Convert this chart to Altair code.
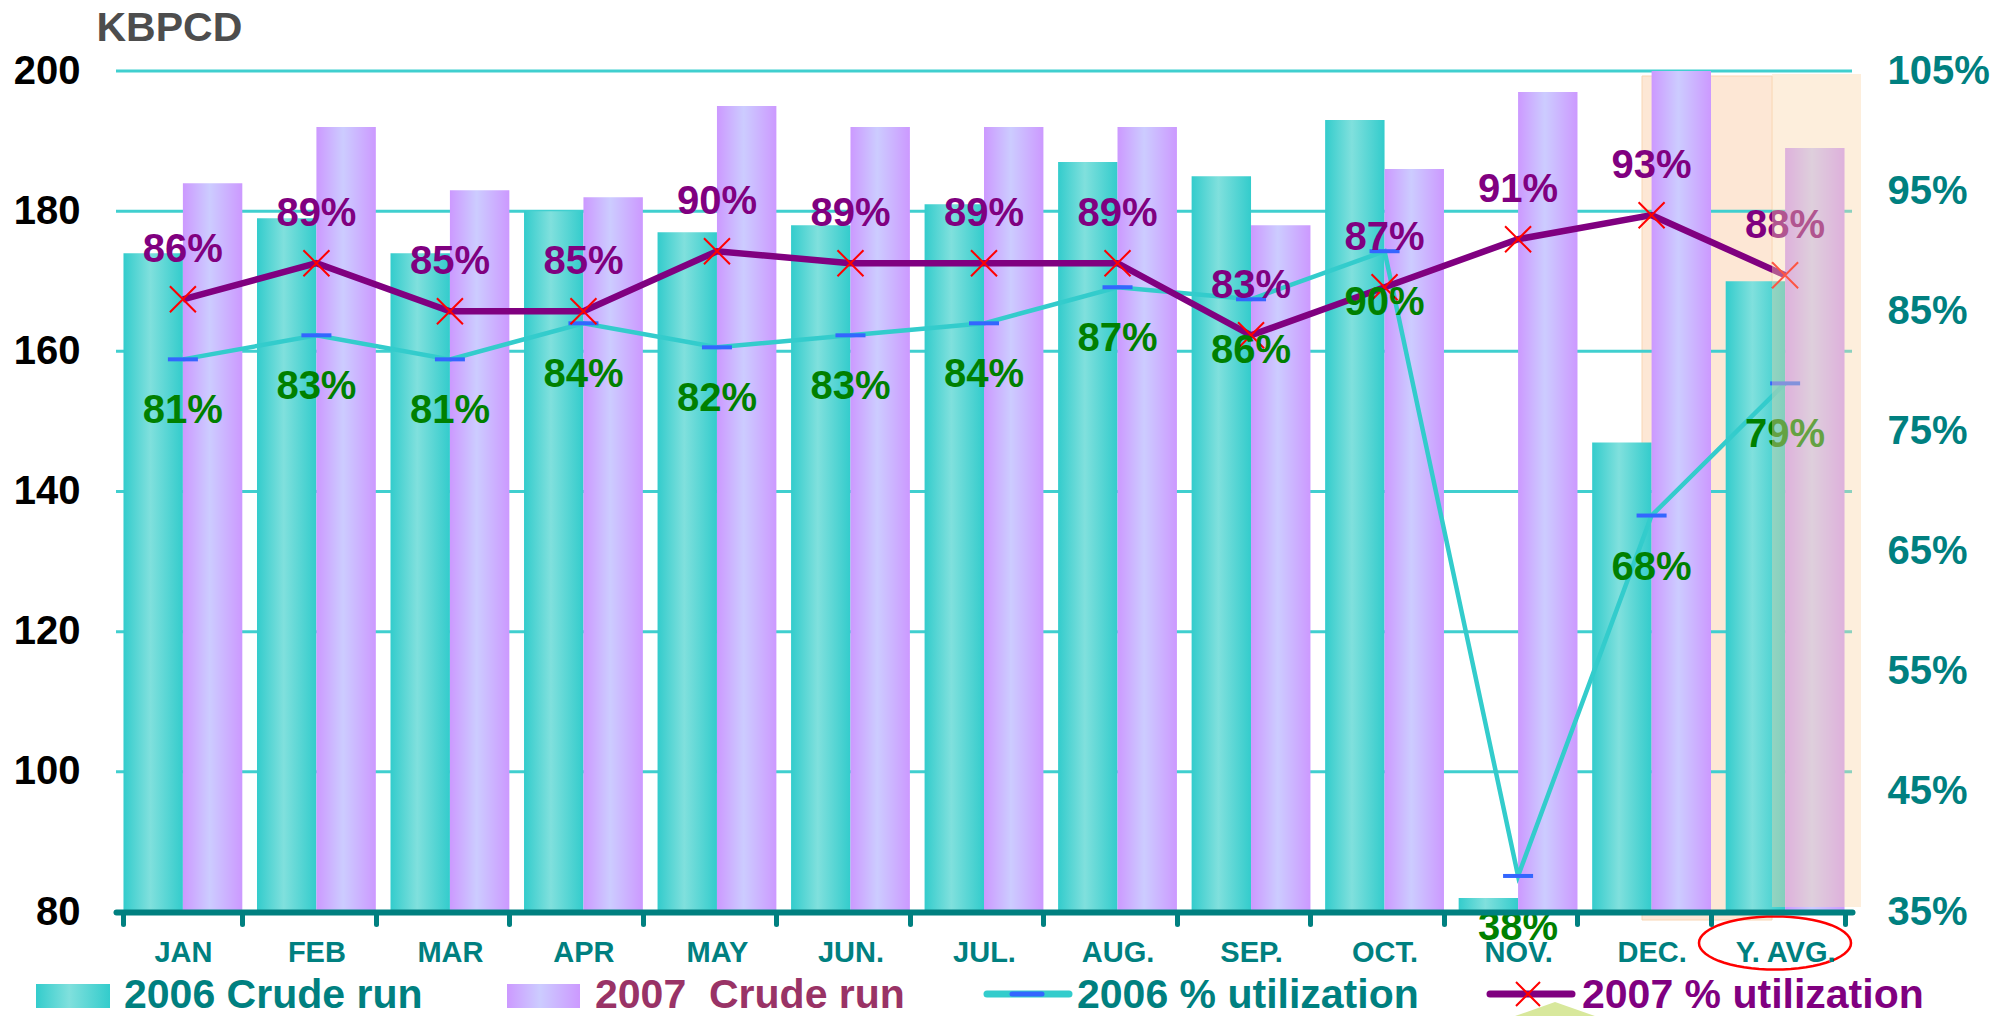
import math
import altair as alt
import pandas as pd

# ---------------- data ----------------
months = ["JAN", "FEB", "MAR", "APR", "MAY", "JUN.", "JUL.", "AUG.", "SEP.", "OCT.", "NOV.", "DEC.", "Y. AVG."]
crude_2006 = [174, 179, 174, 180, 177, 178, 181, 187, 185, 193, 82, 147, 170]
crude_2007 = [184, 192, 183, 182, 195, 192, 192, 192, 178, 186, 197, 200, 189]
util_2006 = [81, 83, 81, 84, 82, 83, 84, 87, 86, 90, 38, 68, 79]
util_2007 = [86, 89, 85, 85, 90, 89, 89, 89, 83, 87, 91, 93, 88]
left_ticks = [80, 100, 120, 140, 160, 180, 200]
right_ticks = [35, 45, 55, 65, 75, 85, 95, 105]
series = ["2006", "2007"]

W, H = 1736, 841
FONT = "Liberation Sans"
TEAL_TXT = "#008080"

bars_df = pd.DataFrame({
    "month": months * 2,
    "series": ["2006"] * len(months) + ["2007"] * len(months),
    "kb": crude_2006 + crude_2007,
})
bars_df["base"] = left_ticks[0]
util_df = pd.DataFrame({"month": months, "idx": list(range(len(months))),
                        "u2006": util_2006, "u2007": util_2007})
grid_df = pd.DataFrame({"kb": left_ticks[1:]})
one = pd.DataFrame({"k": [0]})

xscale = alt.Scale(domain=months, paddingInner=0.11, paddingOuter=0.056)
yscale = alt.Scale(domain=[80, 200], zero=False, nice=False)
pscale = alt.Scale(domain=[35, 105], zero=False, nice=False)


def grad(c1, c2):
    return alt.Gradient(gradient="linear", x1=0, x2=1, y1=0, y2=0,
                        stops=[alt.GradientStop(color=c1, offset=0),
                               alt.GradientStop(color=c2, offset=0.45),
                               alt.GradientStop(color=c1, offset=1)])


teal_grad = grad("#33CCCC", "#80E0DD")
purple_grad = grad("#CC99FF", "#CCCCFF")

x_axis = alt.Axis(title=None, labelAngle=0, grid=False, domain=True, domainColor=TEAL_TXT,
                  domainWidth=6, domainCap="round", ticks=True, tickColor=TEAL_TXT, tickWidth=5,
                  tickSize=12, tickCap="round", tickBand="extent", labelColor=TEAL_TXT,
                  labelFontSize=29, labelFontWeight="bold", labelBaseline="alphabetic",
                  labelPadding=37, zindex=1)
left_axis = alt.Axis(orient="left", values=left_ticks, grid=False, domain=False, ticks=False,
                     labelFontSize=40, labelFontWeight="bold", labelColor="black", labelPadding=36,
                     title="KBPCD", titleAngle=0, titleX=-20, titleY=-31, titleAlign="left",
                     titleBaseline="alphabetic", titleFontSize=41, titleFontWeight="bold",
                     titleColor="#4D4D4D")
right_axis = alt.Axis(orient="right", values=right_ticks, labelExpr="datum.value + '%'",
                      grid=False, domain=False, ticks=False, labelColor=TEAL_TXT, labelFontSize=40,
                      labelFontWeight="bold", labelPadding=35, title=None)

X_SHAPE = "M -1 -1 L 1 1 M -1 1 L 1 -1"
LBL = 40

# ---------------- left (crude run) layer ----------------
highlight = alt.Chart(one).mark_rect(color="#FDE7D5", stroke="#F9D6B4", strokeWidth=1).encode(
    x=alt.value(1526), x2=alt.value(1656), y=alt.value(5), y2=alt.value(849))

grid = alt.Chart(grid_df).mark_rule(color="#40CFCF", strokeWidth=3).encode(
    y=alt.Y("kb:Q", scale=yscale, axis=left_axis))

xoff = alt.XOffset("series:N", scale=alt.Scale(domain=series, paddingInner=0, paddingOuter=0))
xb = alt.X("month:N", scale=xscale, axis=x_axis)
yb = alt.Y("kb:Q", scale=yscale, axis=left_axis)

bar06 = alt.Chart(bars_df).transform_filter("datum.series == '2006'").mark_bar(
    color=teal_grad, clip=True).encode(x=xb, xOffset=xoff, y=yb, y2="base")
bar07 = alt.Chart(bars_df).transform_filter("datum.series == '2007'").mark_bar(
    color=purple_grad, clip=True).encode(x=xb, xOffset=xoff, y=yb, y2="base")

left = alt.layer(highlight, grid, bar06, bar07)

# ---------------- right (utilization) layer ----------------
base_u = alt.Chart(util_df).transform_calculate(
    l06="datum.u2006 + '%'", l07="datum.u2007 + '%'")
xu = alt.X("month:N", scale=xscale, axis=x_axis)
y06 = alt.Y("u2006:Q", scale=pscale, axis=right_axis)
y07 = alt.Y("u2007:Q", scale=pscale, axis=right_axis)

line06 = base_u.mark_line(color="#33CCCC", strokeWidth=4.5).encode(x=xu, y=y06, order="idx:Q")
tick06 = base_u.mark_tick(color="#3366FF", size=30, thickness=4, opacity=1).encode(x=xu, y=y06)
line07 = base_u.mark_line(color="#800080", strokeWidth=6.5).encode(x=xu, y=y07, order="idx:Q")
mark07 = base_u.mark_point(shape=X_SHAPE, size=676, filled=False, color="#FF0000",
                           strokeWidth=2, opacity=1).encode(x=xu, y=y07)
txt06 = base_u.mark_text(dy=52, fontSize=LBL, fontWeight="bold", color="#008000",
                         baseline="middle").encode(x=xu, y=y06, text="l06:N")
txt07 = base_u.mark_text(dy=-49, fontSize=LBL, fontWeight="bold", color="#800080",
                         baseline="middle").encode(x=xu, y=y07, text="l07:N")

right = alt.layer(line06, tick06, line07, mark07, txt06, txt07)

# ---------------- decorations ----------------
overlay = alt.Chart(one).mark_rect(color="#FAD4A7", opacity=0.4).encode(
    x=alt.value(1656), x2=alt.value(1745), y=alt.value(3), y2=alt.value(836))

ell_pts = [(math.cos(2 * math.pi * i / 60), 0.35 * math.sin(2 * math.pi * i / 60)) for i in range(60)]
ell_path = "M " + " L ".join(f"{px:.3f} {py:.3f}" for px, py in ell_pts) + " Z"
ellipse = alt.Chart(one).mark_point(shape=ell_path, size=152 ** 2, filled=False,
                                    color="#FF0000", strokeWidth=2.5, opacity=1).encode(
    x=alt.value(1659), y=alt.value(872))

triangle = alt.Chart(one).mark_point(shape="M 0 -1 L 5.7 1 L -5.7 1 Z", size=784, filled=True,
                                     color="#D8E89C", opacity=1).encode(
    x=alt.value(1439), y=alt.value(945))


def ltext(txt, x, color):
    return alt.Chart(one).mark_text(text=txt, align="left", baseline="alphabetic", fontSize=41,
                                    fontWeight="bold", color=color).encode(
        x=alt.value(x), y=alt.value(937))


def lrect(x1, x2, g):
    return alt.Chart(one).mark_rect(color=g).encode(
        x=alt.value(x1), x2=alt.value(x2), y=alt.value(913), y2=alt.value(937))


def lrule(x1, x2, color, w):
    return alt.Chart(one).mark_rule(color=color, strokeWidth=w, strokeCap="round").encode(
        x=alt.value(x1), x2=alt.value(x2), y=alt.value(923))


legend = [
    lrect(-80, -6, teal_grad), ltext("2006 Crude run", 8, TEAL_TXT),
    lrect(391, 464, purple_grad), ltext("2007\u00a0 Crude run", 479, "#993366"),
    lrule(871, 953, "#33CCCC", 7), lrule(896, 926, "#3366FF", 5),
    ltext("2006 % utilization", 961, TEAL_TXT),
    lrule(1374, 1456, "#800080", 7),
    alt.Chart(one).mark_point(shape=X_SHAPE, size=576, filled=False, color="#FF0000",
                              strokeWidth=2, opacity=1).encode(x=alt.value(1412), y=alt.value(923)),
    ltext("2007 % utilization", 1466, "#800080"),
]

chart = alt.layer(left, right, overlay, ellipse, triangle, *legend).resolve_scale(
    y="independent"
).properties(
    width=W, height=H,
    padding={"left": 116, "top": 71, "right": 146, "bottom": 104},
    autosize=alt.AutoSizeParams(type="none"),
    background="white",
).configure(font=FONT).configure_view(stroke=None)

chart.save("out.html", embed_options={"renderer": "svg", "actions": False})
